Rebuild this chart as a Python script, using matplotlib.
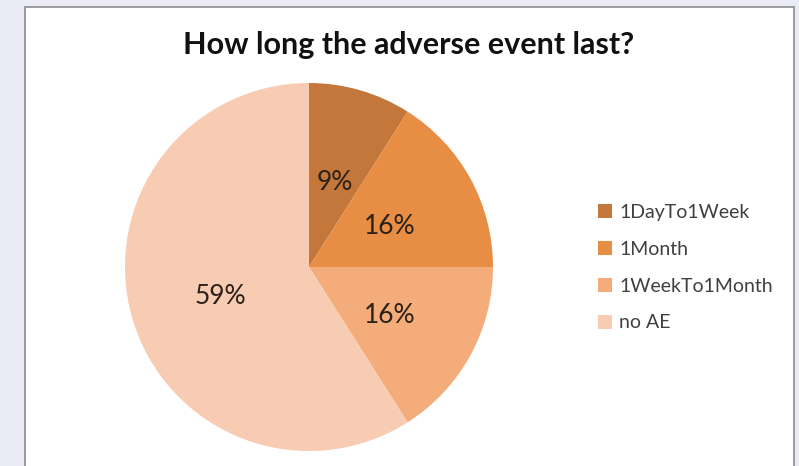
import matplotlib.pyplot as plt
from matplotlib.patches import Rectangle

categories = ['1DayTo1Week', '1Month', '1WeekTo1Month', 'no AE']
shares = [9, 16, 16, 59]
colors = ['#C4773A', '#E88D44', '#F4AC7B', '#F8CCB2']
title = 'How long the adverse event last?'

W, H = 799, 466
fig = plt.figure(figsize=(W / 100, H / 100), dpi=100)
fig.patch.set_facecolor('#EBEBF5')

# white chart area with grey frame
frame = Rectangle((25 / W, -0.05), 769 / W, 1.05 - 7 / H, transform=fig.transFigure,
                  facecolor='white', edgecolor='#8C8C8C', linewidth=1.2, zorder=-5)
fig.patches.append(frame)

cx, cy, r = 309, 267, 184
ax = fig.add_axes([(cx - r) / W, (H - cy - r) / H, 2 * r / W, 2 * r / H])
ax.set_zorder(2)
wedges, texts, autotexts = ax.pie(
    shares, colors=colors, startangle=90, counterclock=False,
    autopct='%.0f%%', pctdistance=0.5, radius=1.0,
    wedgeprops=dict(linewidth=0),
    textprops=dict(fontsize=19, color='#2B2119', family='Lato'))
# nudge the percentage labels down a touch
for t in autotexts:
    x, y = t.get_position()
    t.set_position((x, y - 0.02))
ax.set_xlim(-1, 1)
ax.set_ylim(-1, 1)
ax.set_aspect('equal')
ax.axis('off')

fig.text(409 / W, 1 - 45 / H, title, ha='center', va='center',
         fontsize=22, fontweight='bold', family='Lato', color='#111111')

fig.legend(wedges, categories, loc='upper left',
           bbox_to_anchor=(598 / W, 1 - 204 / H), frameon=False,
           prop=dict(family='Lato', size=14), labelcolor='#404040',
           handlelength=0.7, handleheight=0.7, handletextpad=0.4,
           labelspacing=1.02, borderaxespad=0, borderpad=0)

fig.savefig('out.png', dpi=100, facecolor=fig.get_facecolor())
